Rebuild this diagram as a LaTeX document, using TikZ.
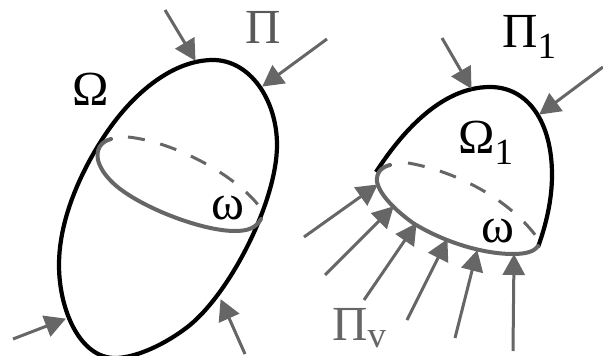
\documentclass[tikz,border=0pt]{standalone}
\usepackage{fontspec}
\setmainfont{Liberation Serif}
\usetikzlibrary{arrows.meta,positioning}
\definecolor{grisFlecha}{HTML}{666666}
\definecolor{grisLetra}{HTML}{595959}
\newcommand{\subind}[2]{\raisebox{#1}{\fontsize{37}{37}\selectfont #2}}

\begin{document}
\begin{tikzpicture}[
    x=1pt, y=-1pt,
    contorno/.style={line width=4.2pt, draw=black},
    seccion/.style={line width=4pt, draw=grisFlecha, line cap=round},
    oculta/.style={line width=3pt, draw=grisFlecha, dash pattern=on 17pt off 16pt},
    flecha/.style={-{Triangle[length=21pt, width=22pt]}, line width=3pt, draw=grisFlecha, color=grisFlecha, shorten >=-1pt},
    letra/.style={font=\fontsize{49}{49}\selectfont, inner sep=0pt},
    letram/.style={font=\fontsize{50}{50}\selectfont, inner sep=0pt}
  ]
  \useasboundingbox (0,0) rectangle (603,356);

  % Cuerpo completo
  \draw[contorno] (213,60) .. controls (250,60) and (277,100) .. (277,145)
    .. controls (277,200) and (232,290) .. (190,325)
    .. controls (165,345) and (135,358) .. (115,358)
    .. controls (80,358) and (59,310) .. (59,265)
    .. controls (59,215) and (85,165) .. (105,135)
    .. controls (135,90) and (175,60) .. cycle;

  % Seccion del cuerpo completo
  \draw[seccion] (111,139) .. controls (100,142) and (96,150) .. (98,160)
    .. controls (100,168) and (105,175) .. (112,182)
    .. controls (135,205) and (200,231) .. (235,231)
    .. controls (248,231) and (256,228) .. (261,219);
  \draw[oculta] (128,137) .. controls (175,142) and (235,175) .. (259,206);

  % Cuerpo cortado
  \draw[contorno] (376,172) .. controls (400,135) and (440,87) .. (490,87)
    .. controls (528,87) and (552,122) .. (552,175)
    .. controls (552,200) and (546,225) .. (538,247);
  \draw[seccion] (390,165) .. controls (382,167) and (376,172) .. (377,182)
    .. controls (380,195) and (395,210) .. (413,223)
    .. controls (440,240) and (480,254) .. (513,254)
    .. controls (525,254) and (534,252) .. (538,246);
  \draw[oculta] (408,163) .. controls (450,170) and (505,195) .. (536,236);

  % Fuerzas
  \foreach \n/\xa/\ya/\xb/\yb in {
    a/165/10/195/60, b/327/39/263/86, c/13/339/65/319, d/245/354/221/300,
    e/442/38/471/88, f/603/67/540/114,
    g/304/237/377/185, h/325/275/393/207, i/364/300/416/224,
    j/407/320/447/240, k/455/338/477/251, l/513/351/514/255} {
    \coordinate (ini\n) at (\xa,\ya);
    \coordinate (pun\n) at (\xb,\yb);
    \draw[flecha] (ini\n) -- (pun\n);
  }

  % Letras
  \node[letra, text=grisLetra] (presion) at (263,27) {Π};
  \node[letra] (omega) at (91,89) {Ω};
  \node[letram] (seca) at (228,208) {ω};
  \node[letra, anchor=base west] (presionu) at (502,47) {Π\subind{-11pt}{1}};
  \node[letra, anchor=base west] (omegau) at (458,153) {Ω\subind{-11pt}{1}};
  \node[letram] (secb) at (498,231) {ω};
  \node[letra, text=grisFlecha, anchor=base west] (presionv) at (332,340) {Π\subind{-7pt}{v}};
\end{tikzpicture}
\end{document}
